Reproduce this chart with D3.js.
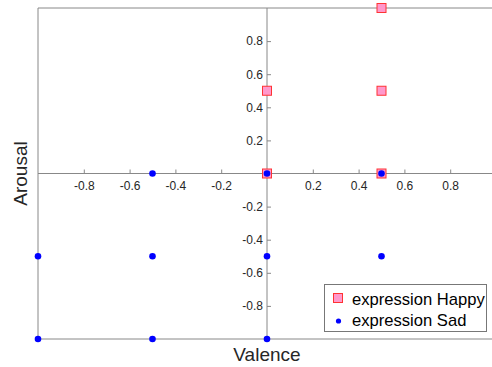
<!DOCTYPE html>
<html>
<head>
<meta charset="utf-8">
<script src="https://cdn.jsdelivr.net/npm/d3@7"></script>
<style>
  body { margin: 0; background: #fff; }
  text { font-family: Arial, "Liberation Sans", sans-serif; }
</style>
</head>
<body>
<div id="chart"></div>
<script>
// expression data (valence, arousal)
let happyValence = [0.5, 0, 0.5, 0, 0.5]
let happyArousal = [1, 0.5, 0.5, 0, 0]
let sadValence = [-0.5, 0, 0.5, -1, -0.5, 0, 0.5, -1, -0.5, 0]
let sadArousal = [0, 0, 0, -0.5, -0.5, -0.5, -0.5, -1, -1, -1]
let tickValues = [-0.8, -0.6, -0.4, -0.2, 0.2, 0.4, 0.6, 0.8]
let seriesNames = ['expression Happy', 'expression Sad']

let width = 492
let height = 367
let axisColor = '#888'
let labelColor = '#262626'

let svg = d3.select('#chart').append('svg')
  .attr('width', width)
  .attr('height', height)

let x = d3.scaleLinear().domain([-1, 1]).range([38, 496])
let y = d3.scaleLinear().domain([-1, 1]).range([339, 8])

// plain hyphen for negatives, like the original
let fmt = (d) => d3.format('.1f')(d).replace('−', '-')

// outer box lines (left, top, bottom)
svg.append('line')
  .attr('x1', x(-1)).attr('x2', x(-1)).attr('y1', y(1)).attr('y2', y(-1))
  .attr('stroke', axisColor)
svg.append('line')
  .attr('x1', x(-1)).attr('x2', x(1)).attr('y1', y(1)).attr('y2', y(1))
  .attr('stroke', axisColor)
svg.append('line')
  .attr('x1', x(-1)).attr('x2', x(1)).attr('y1', y(-1)).attr('y2', y(-1))
  .attr('stroke', axisColor)

// x axis through origin, ticks point up, labels below
let xAxis = svg.append('g')
  .attr('transform', 'translate(0,' + y(0) + ')')
  .call(d3.axisBottom(x).tickValues(tickValues).tickSize(0).tickPadding(8)
    .tickFormat(fmt))
xAxis.select('.domain').remove()
xAxis.selectAll('.tick').append('line')
  .attr('y1', 0).attr('y2', -4).attr('stroke', axisColor)
xAxis.selectAll('text').attr('fill', labelColor).attr('font-size', 12)
svg.append('line')
  .attr('x1', x(-1)).attr('x2', x(1)).attr('y1', y(0)).attr('y2', y(0))
  .attr('stroke', axisColor)

// y axis through origin, ticks point right, labels left
let yAxis = svg.append('g')
  .attr('transform', 'translate(' + x(0) + ',0)')
  .call(d3.axisLeft(y).tickValues(tickValues).tickSize(0).tickPadding(4)
    .tickFormat(fmt))
yAxis.select('.domain').remove()
yAxis.selectAll('.tick').append('line')
  .attr('x1', 0).attr('x2', 4).attr('stroke', axisColor)
yAxis.selectAll('text').attr('fill', labelColor).attr('font-size', 12)
svg.append('line')
  .attr('x1', x(0)).attr('x2', x(0)).attr('y1', y(1)).attr('y2', y(-1))
  .attr('stroke', axisColor)

// axis titles
svg.append('text')
  .attr('x', x(0))
  .attr('y', 361)
  .attr('text-anchor', 'middle')
  .attr('font-size', 19)
  .attr('fill', labelColor)
  .text('Valence')
svg.append('text')
  .attr('transform', 'translate(27,' + y(0) + ') rotate(-90)')
  .attr('text-anchor', 'middle')
  .attr('font-size', 19)
  .attr('fill', labelColor)
  .text('Arousal')

// happy markers
let sq = 9
svg.selectAll('rect.happy')
  .data(happyValence)
  .enter()
  .append('rect')
  .attr('class', 'happy')
  .attr('x', (d) => x(d) - sq / 2)
  .attr('y', (d, i) => y(happyArousal[i]) - sq / 2)
  .attr('width', sq)
  .attr('height', sq)
  .attr('fill', '#ff99cc')
  .attr('stroke', '#ff3333')
  .attr('stroke-width', 1)

// sad markers
svg.selectAll('circle.sad')
  .data(sadValence)
  .enter()
  .append('circle')
  .attr('class', 'sad')
  .attr('cx', (d) => x(d))
  .attr('cy', (d, i) => y(sadArousal[i]))
  .attr('r', 3.3)
  .attr('fill', '#0000ff')

// legend
let legend = svg.append('g')
legend.append('rect')
  .attr('x', 324.5).attr('y', 284.5)
  .attr('width', 162).attr('height', 47)
  .attr('fill', '#fff')
  .attr('stroke', '#777')
legend.append('rect')
  .attr('x', 333.5).attr('y', 293.5)
  .attr('width', sq).attr('height', sq)
  .attr('fill', '#ff99cc')
  .attr('stroke', '#ff3333')
legend.append('circle')
  .attr('cx', 338.5).attr('cy', 321)
  .attr('r', 2.6)
  .attr('fill', '#0000ff')
legend.selectAll('text.leg')
  .data(seriesNames)
  .enter()
  .append('text')
  .attr('class', 'leg')
  .attr('x', 352)
  .attr('y', (d, i) => 305 + i * 21)
  .attr('font-size', 16.6)
  .attr('fill', '#000')
  .text((d) => d)
</script>
</body>
</html>
